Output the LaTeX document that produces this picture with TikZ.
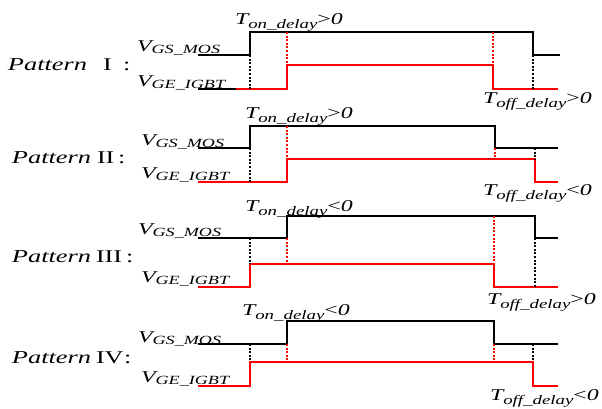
\documentclass[tikz,border=0pt]{standalone}
\usepackage{fontspec}
\setmainfont[FakeStretch=1.45]{Liberation Serif}
\definecolor{wred}{RGB}{255,0,0}
\newcommand\sigV[1]{{\fontsize{16.5}{16.5}\selectfont\itshape V}\raisebox{-2pt}{\fontsize{12.5}{12.5}\selectfont\itshape #1}}
\newcommand\tdel[2]{{\fontsize{16.5}{16.5}\selectfont\itshape T}\raisebox{-4pt}{\fontsize{13}{13}\selectfont\itshape #1}{\fontsize{16.5}{16.5}\selectfont #2\itshape 0}}
\newcommand\patt{{\fontsize{18.2}{18.2}\selectfont\itshape Pattern}}
\tikzset{
  txt/.style={anchor=base west, inner sep=0pt, outer sep=0pt},
  num/.style={anchor=base west, inner sep=0pt, outer sep=0pt, font=\fontsize{18}{18}\selectfont},
  wave/.style={line width=1.5pt, line join=miter},
  redwave/.style={wave, draw=wred},
  blkwave/.style={wave, draw=black},
  bdash/.style={line width=1.1pt, draw=black, dash pattern=on 2pt off 1.6pt},
  rdash/.style={line width=1.1pt, draw=wred, dash pattern=on 2pt off 1.6pt},
}
\begin{document}
\begin{tikzpicture}[x=1pt,y=-1pt]
\useasboundingbox (0,0) rectangle (602,408);

% ---------------- Pattern I ----------------
\node[txt] (p1) at (8,70) {\patt};
\node[num] (n1) at (103,70) {I};
\node[num] (c1) at (123,70) {:};
\node[txt] (g1) at (137,51) {\sigV{GS\_MOS}};
\node[txt] (e1) at (137,86) {\sigV{GE\_IGBT}};
\node[txt] (ton1) at (235,24) {\tdel{on\_delay}{>}};
\node[txt] (toff1) at (483,103) {\tdel{off\_delay}{>}};
\draw[blkwave] (198,55) -- (250,55) -- (250,32) -- (533,32) -- (533,55) -- (560,55);
\draw[blkwave] (198,89) -- (236,89);
\draw[redwave] (236,89) -- (287,89) -- (287,65) -- (493,65) -- (493,89) -- (558,89);
\draw[bdash] (250,55) -- (250,89);
\draw[rdash] (287,32) -- (287,65);
\draw[rdash] (493,32) -- (493,65);
\draw[bdash] (533,55) -- (533,89);

% ---------------- Pattern II ----------------
\node[txt] (p2) at (12,163) {\patt};
\node[num] (n2) at (97,163) {II};
\node[num] (c2) at (118,163) {:};
\node[txt] (g2) at (141,145) {\sigV{GS\_MOS}};
\node[txt] (e2) at (141,178) {\sigV{GE\_IGBT}};
\node[txt] (ton2) at (245,118) {\tdel{on\_delay}{>}};
\node[txt] (toff2) at (483,195) {\tdel{off\_delay}{<}};
\draw[blkwave] (198,148) -- (250,148) -- (250,126) -- (495,126) -- (495,148) -- (558,148);
\draw[redwave] (198,182) -- (287,182) -- (287,159) -- (535,159) -- (535,182) -- (558,182);
\draw[bdash] (250,148) -- (250,182);
\draw[rdash] (287,126) -- (287,159);
\draw[rdash] (495,148) -- (495,159);
\draw[bdash] (535,148) -- (535,159);

% ---------------- Pattern III ----------------
\node[txt] (p3) at (12,262) {\patt};
\node[num] (n3) at (96,262) {III};
\node[num] (c3) at (126,262) {:};
\node[txt] (g3) at (138,234) {\sigV{GS\_MOS}};
\node[txt] (e3) at (141,282) {\sigV{GE\_IGBT}};
\node[txt] (ton3) at (245,211) {\tdel{on\_delay}{<}};
\node[txt] (toff3) at (487,304) {\tdel{off\_delay}{>}};
\draw[blkwave] (198,238) -- (287,238) -- (287,216) -- (535,216) -- (535,238) -- (558,238);
\draw[redwave] (198,287) -- (250,287) -- (250,264) -- (494,264) -- (494,287) -- (558,287);
\draw[bdash] (250,238) -- (250,264);
\draw[rdash] (287,238) -- (287,264);
\draw[rdash] (494,216) -- (494,264);
\draw[bdash] (535,238) -- (535,287);

% ---------------- Pattern IV ----------------
\node[txt] (p4) at (12,363) {\patt};
\node[num] (n4) at (96,363) {IV};
\node[num] (c4) at (124,363) {:};
\node[txt] (g4) at (138,342) {\sigV{GS\_MOS}};
\node[txt] (e4) at (141,382) {\sigV{GE\_IGBT}};
\node[txt] (ton4) at (242,315) {\tdel{on\_delay}{<}};
\node[txt] (toff4) at (490,400) {\tdel{off\_delay}{<}};
\draw[blkwave] (198,344) -- (287,344) -- (287,321) -- (494,321) -- (494,344) -- (558,344);
\draw[redwave] (198,386) -- (250,386) -- (250,362) -- (533,362) -- (533,386) -- (558,386);
\draw[bdash] (250,344) -- (250,362);
\draw[rdash] (287,344) -- (287,362);
\draw[rdash] (494,344) -- (494,362);
\draw[bdash] (533,344) -- (533,362);
\end{tikzpicture}
\end{document}
